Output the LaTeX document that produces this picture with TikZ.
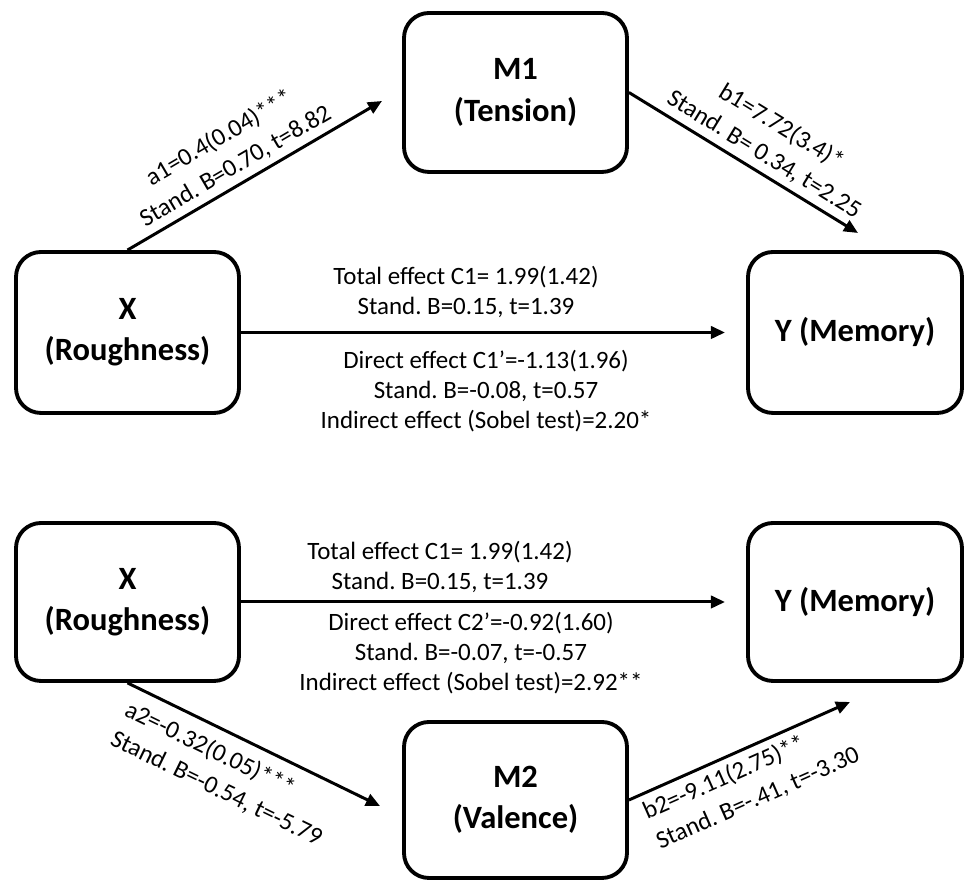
\documentclass[tikz,border=0pt]{standalone}
\usepackage{fontspec}
\setmainfont{Carlito}
\usetikzlibrary{arrows.meta}
\frenchspacing

\begin{document}
\begin{tikzpicture}[line width=1.7pt,>={Triangle[length=8pt,width=7pt]},
  var/.style={draw,line width=2.2pt,rounded corners=0.5cm,minimum width=4.46cm,
    minimum height=3.18cm,align=center,font=\fontsize{18.5}{23.5}\selectfont\bfseries},
  lbl/.style={align=center,font=\fontsize{14.2}{17}\selectfont},
  slbl/.style={lbl,sloped,font=\fontsize{14.2}{18.5}\selectfont},
  eff/.style={->,line width=1.7pt}]
\useasboundingbox (0,0) rectangle (19.3,17.62);
% variables, upper model
\node[var] (M1) at (10.31,15.77) {M1\\(Tension)};
\node[var,minimum height=3.22cm] (X1) at (2.55,10.97) {X\\(Roughness)};
\node[var,minimum width=4.28cm,minimum height=3.22cm] (Y1) at (17.10,10.97) {Y (Memory)};
% variables, lower model
\node[var,minimum height=3.16cm] (X2) at (2.55,5.58) {X\\(Roughness)};
\node[var,minimum width=4.28cm,minimum height=3.16cm] (Y2) at (17.10,5.58) {Y (Memory)};
\node[var,minimum height=3.12cm] (M2) at (10.31,1.62) {M2\\(Valence)};
% arrow tips (free ends)
\coordinate (a1tip) at (7.64,15.60);
\coordinate (b1tip) at (17.16,12.96);
\coordinate (c1tip) at (14.50,10.97);
\coordinate (c2tip) at (14.50,5.58);
\coordinate (a2tip) at (7.60,1.50);
\coordinate (b2tip) at (17.00,3.58);
% paths, upper model
\draw[eff] (X1.north) -- (a1tip)
  node[slbl,pos=0.46,above] {a1=0.4(0.04)***\\Stand. B=0.70, t=8.82};
\draw[eff] (M1.east) -- (b1tip)
  node[slbl,pos=0.55,above] {b1=7.72(3.4)*\\Stand. B= 0.34, t=2.25};
\draw[eff] (X1.east) -- (c1tip);
% paths, lower model
\draw[eff] (X2.south) -- (a2tip)
  node[slbl,align=left,pos=0.45,below=3pt] {a2=-0.32(0.05)***\\Stand. B=-0.54, t=-5.79};
\draw[eff] (M2.east) -- (b2tip)
  node[slbl,align=left,pos=0.49,below] {b2=-9.11(2.75)**\\Stand. B=-.41, t=-3.30};
\draw[eff] (X2.east) -- (c2tip);
% effect labels
\node[lbl] (tot1) at (9.32,11.78) {Total effect C1= 1.99(1.42)\\Stand. B=0.15, t=1.39};
\node[lbl] (dir1) at (9.72,9.80) {Direct effect C1’=-1.13(1.96)\\Stand. B=-0.08, t=0.57\\Indirect effect (Sobel test)=2.20*};
\node[lbl] (tot2) at (8.80,6.28) {Total effect C1= 1.99(1.42)\\Stand. B=0.15, t=1.39};
\node[lbl] (dir2) at (9.42,4.56) {Direct effect C2’=-0.92(1.60)\\Stand. B=-0.07, t=-0.57\\Indirect effect (Sobel test)=2.92**};
\end{tikzpicture}
\end{document}
